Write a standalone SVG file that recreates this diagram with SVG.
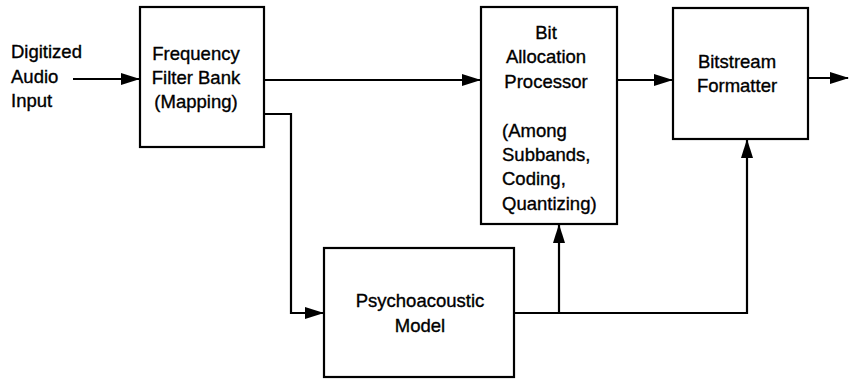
<svg xmlns="http://www.w3.org/2000/svg" width="849" height="381" viewBox="0 0 849 381">
<style>
.box{fill:#fff;stroke:#000;stroke-width:2.2}
.ln{fill:none;stroke:#000;stroke-width:2.2}
text{font-family:"Liberation Sans",Arial,sans-serif;font-size:18.5px;fill:#000;stroke:#000;stroke-width:0.35}
.c{text-anchor:middle}
</style>
<defs>
<marker id="ah" markerUnits="userSpaceOnUse" markerWidth="20" markerHeight="14" refX="18" refY="7" orient="auto">
<path d="M0,1 L19,7 L0,13 Z" fill="#000"/>
</marker>
</defs>
<rect width="849" height="381" fill="#fff"/>
<g id="connectors">
<line class="ln" x1="73" y1="79" x2="139" y2="79" marker-end="url(#ah)"/>
<line class="ln" x1="264" y1="80" x2="480" y2="80" marker-end="url(#ah)"/>
<polyline class="ln" points="264,114 291,114 291,313 323,313" marker-end="url(#ah)"/>
<line class="ln" x1="514" y1="313" x2="747" y2="313"/>
<line class="ln" x1="559" y1="313" x2="559" y2="225" marker-end="url(#ah)"/>
<line class="ln" x1="747" y1="314" x2="747" y2="140" marker-end="url(#ah)"/>
<line class="ln" x1="617" y1="80" x2="672" y2="80" marker-end="url(#ah)"/>
<line class="ln" x1="808" y1="78" x2="848" y2="78" marker-end="url(#ah)"/>
</g>
<g id="input">
<text x="11" y="58">Digitized</text>
<text x="11" y="83">Audio</text>
<text x="11" y="107">Input</text>
</g>
<g id="filterbank">
<rect class="box" x="140" y="7" width="124" height="140"/>
<text class="c" x="196" y="60">Frequency</text>
<text class="c" x="196" y="84">Filter Bank</text>
<text class="c" x="196" y="108">(Mapping)</text>
</g>
<g id="bitalloc">
<rect class="box" x="481" y="7" width="136" height="217"/>
<text class="c" x="546" y="39">Bit</text>
<text class="c" x="546" y="63">Allocation</text>
<text class="c" x="546" y="88">Processor</text>
<text x="502" y="137">(Among</text>
<text x="502" y="161">Subbands,</text>
<text x="502" y="185">Coding,</text>
<text x="502" y="210">Quantizing)</text>
</g>
<g id="formatter">
<rect class="box" x="673" y="8" width="135" height="131"/>
<text class="c" x="737" y="68">Bitstream</text>
<text class="c" x="737" y="92">Formatter</text>
</g>
<g id="psycho">
<rect class="box" x="324" y="248" width="190" height="129"/>
<text class="c" x="420" y="307">Psychoacoustic</text>
<text class="c" x="420" y="332">Model</text>
</g>
</svg>
